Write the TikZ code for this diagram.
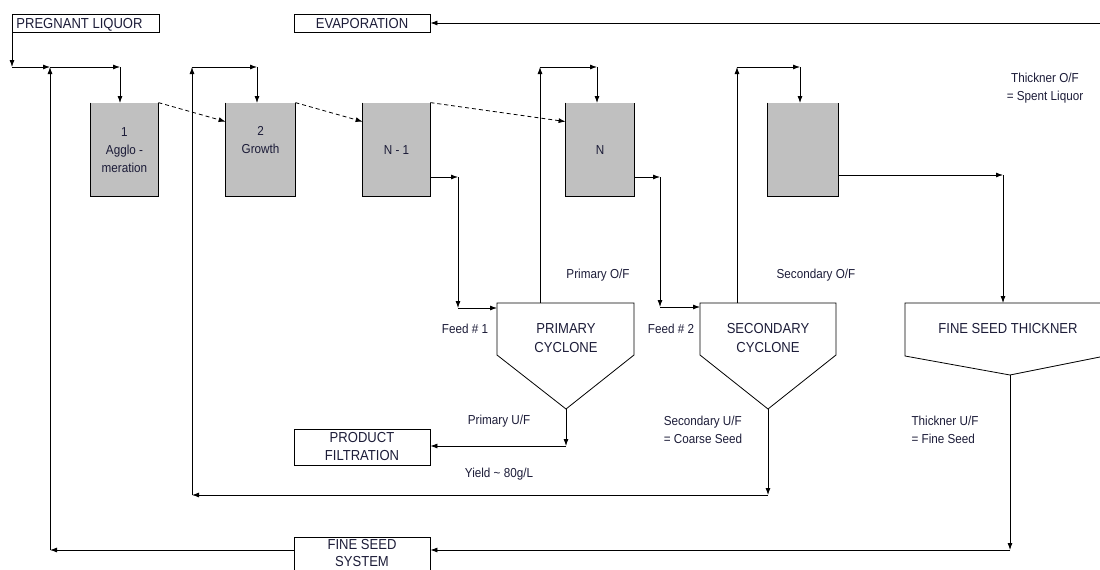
\documentclass[tikz,border=0pt]{standalone}
\usepackage{fontspec}
\setmainfont[FakeStretch=0.9]{Liberation Sans}
\usetikzlibrary{arrows.meta,calc}
\definecolor{boxgray}{HTML}{C0C0C0}
\definecolor{ink}{HTML}{1C1C38}
\begin{document}
\begin{tikzpicture}[x=1pt,y=-1pt,
  line width=0.8pt,
  arr/.style={-{Latex[length=7pt,width=5pt]}},
  txt/.style={font=\fontsize{13}{18}\selectfont, text=ink, inner sep=0pt, align=center},
  captxt/.style={font=\fontsize{14.5}{19}\selectfont, text=ink, inner sep=0pt, align=center},
  plain/.style={font=\fontsize{14.5}{19}\selectfont, text=ink, inner sep=0pt},
  capbox/.style={draw, fill=white, inner sep=0pt, font=\fontsize{14.5}{18}\selectfont, text=ink, align=center},
  frame/.style={draw, fill=white, inner sep=0pt},
  tank/.style={fill=boxgray, draw=none, inner sep=0pt, minimum height=93pt}
]
\useasboundingbox (0,0) rectangle (1100,570);

% top boxes
\node[frame, minimum width=147pt, minimum height=18pt] (pl) at (85.5,23) {};
\node[plain, anchor=base west] (plt) at (16,28.2) {PREGNANT LIQUOR};
\node[frame, minimum width=136pt, minimum height=18pt] (evap) at (362,23) {};
\node[plain, anchor=base] (evt) at (362,28.2) {EVAPORATION};
\coordinate (evin) at (1100,23);
\draw[arr] (evin) -- (evap.east);

% tanks
\node[tank, minimum width=67pt] (b1) at (124.5,149.5) {};
\node[tank, minimum width=69pt] (b2) at (260.5,149.5) {};
\node[tank, minimum width=67pt] (b3) at (396.5,149.5) {};
\node[tank, minimum width=68pt] (b4) at (600,149.5) {};
\node[tank, minimum width=70pt] (b5) at (803,149.5) {};
\foreach \b in {b1,b2,b3,b4,b5}{
  \draw (\b.north west) |- (\b.south east) -- (\b.north east);
}
\node[txt] (t1) at (124.5,150) {1\\Agglo -\\meration};
\node[txt] (t2) at (260.5,140.5) {2\\Growth};
\node[txt] (t3) at (396.5,150) {N - 1};
\node[txt] (t4) at (600,150) {N};

% dashed transfers
\draw[arr, dashed, dash pattern=on 4pt off 3pt] (b1.north east) -- ($(b2.north west)+(0,19)$);
\draw[arr, dashed, dash pattern=on 4pt off 3pt] (b2.north east) -- ($(b3.north west)+(0,19)$);
\draw[arr, dashed, dash pattern=on 4pt off 3pt] (b3.north east) -- ($(b4.north west)+(0,19)$);

% pregnant liquor feed
\coordinate (p0) at (12,32);
\coordinate (p1) at (12,67);
\coordinate (p2) at (50,67);
\coordinate (p3) at (120,67);
\coordinate (p4) at (120,103);
\draw[arr] (p0) -- (p1);
\draw[arr] (p1) -- (p2);
\draw[arr] (p2) -- (p3);
\draw[arr] (p3) -- (p4);

% cyclones
\coordinate (pc1) at (497,303); \coordinate (pc2) at (634,303);
\coordinate (pc3) at (634,355); \coordinate (pctip) at (566,409);
\coordinate (pc5) at (497,355);
\draw (pc1) -- (pc2) -- (pc3) -- (pctip) -- (pc5) -- cycle;
\node[captxt] (pct) at (566,338.5) {PRIMARY\\CYCLONE};

\coordinate (sc1) at (700,303); \coordinate (sc2) at (836,303);
\coordinate (sc3) at (836,355); \coordinate (sctip) at (768,409);
\coordinate (sc5) at (700,355);
\draw (sc1) -- (sc2) -- (sc3) -- (sctip) -- (sc5) -- cycle;
\node[captxt] (sct) at (768,338.5) {SECONDARY\\CYCLONE};

\coordinate (th1) at (1100,303); \coordinate (th2) at (905,303);
\coordinate (th3) at (905,356); \coordinate (thtip) at (1010,375);
\coordinate (th5) at (1100,357);
\draw (th1) -- (th2) -- (th3) -- (thtip) -- (th5);
\node[captxt] (tht) at (1008,329) {FINE SEED THICKNER};

% feed 1
\coordinate (f1a) at (430,177); \coordinate (f1b) at (458,177);
\coordinate (f1c) at (458,308); \coordinate (f1d) at (497,308);
\draw[arr] (f1a) -- (f1b);
\draw[arr] (f1b) -- (f1c);
\draw[arr] (f1c) -- (f1d);
\node[txt] (fd1) at (465,329) {Feed \# 1};

% primary O/F
\coordinate (po1) at (540,303); \coordinate (po2) at (540,67);
\coordinate (po3) at (597,67); \coordinate (po4) at (597,103);
\draw[arr] (po1) -- (po2);
\draw[arr] (po2) -- (po3);
\draw[arr] (po3) -- (po4);
\node[txt] (pol) at (598,275) {Primary O/F};

% feed 2
\coordinate (f2a) at (634,177); \coordinate (f2b) at (660,177);
\coordinate (f2c) at (660,307); \coordinate (f2d) at (700,307);
\draw[arr] (f2a) -- (f2b);
\draw[arr] (f2b) -- (f2c);
\draw[arr] (f2c) -- (f2d);
\node[txt] (fd2) at (671,329) {Feed \# 2};

% secondary O/F
\coordinate (so1) at (737,303); \coordinate (so2) at (737,67);
\coordinate (so3) at (800,67); \coordinate (so4) at (800,103);
\draw[arr] (so1) -- (so2);
\draw[arr] (so2) -- (so3);
\draw[arr] (so3) -- (so4);
\node[txt] (sol) at (816,275) {Secondary O/F};

% to thickener
\coordinate (t5a) at (838,175); \coordinate (t5b) at (1003,175);
\coordinate (t5c) at (1003,303);
\draw[arr] (t5a) -- (t5b);
\draw[arr] (t5b) -- (t5c);
\node[txt] (tol) at (1045,88) {Thickner O/F\\= Spent Liquor};

% product filtration
\node[capbox, minimum width=136pt, minimum height=36pt] (pf) at (362,447) {PRODUCT\\FILTRATION};
\coordinate (pu1) at (566,446);
\draw[arr] (pctip) -- (pu1);
\draw[arr] (pu1) -- (pf.east |- pu1);
\node[txt] (pul) at (499,421) {Primary U/F};
\node[txt] (yl) at (499,474) {Yield \textasciitilde{} 80g/L};

% secondary U/F (coarse seed)
\coordinate (su1) at (768,495); \coordinate (su2) at (192,495);
\coordinate (su3) at (192,67); \coordinate (su4) at (257,67);
\coordinate (su5) at (257,103);
\draw[arr] (sctip) -- (su1);
\draw[arr] (su1) -- (su2);
\draw[arr] (su2) -- (su3);
\draw[arr] (su3) -- (su4);
\draw[arr] (su4) -- (su5);
\node[txt, align=left] (sul) at (703,429.5) {Secondary U/F\\= Coarse Seed};

% fine seed system
\node[frame, minimum width=136pt, minimum height=38pt] (fss) at (362,556) {};
\node[captxt, font=\fontsize{14.5}{17}\selectfont] (fsst) at (362,553.5) {FINE SEED\\SYSTEM};
\coordinate (tu1) at (1010,550);
\draw[arr] (thtip) -- (tu1);
\draw[arr] (tu1) -- (fss.east |- tu1);
\node[txt, align=left] (tul) at (945,429.5) {Thickner U/F\\= Fine Seed};
\coordinate (fs1) at (50,550);
\draw[arr] (fss.west |- fs1) -- (fs1);
\draw[arr] (fs1) -- (p2);
\end{tikzpicture}
\end{document}
